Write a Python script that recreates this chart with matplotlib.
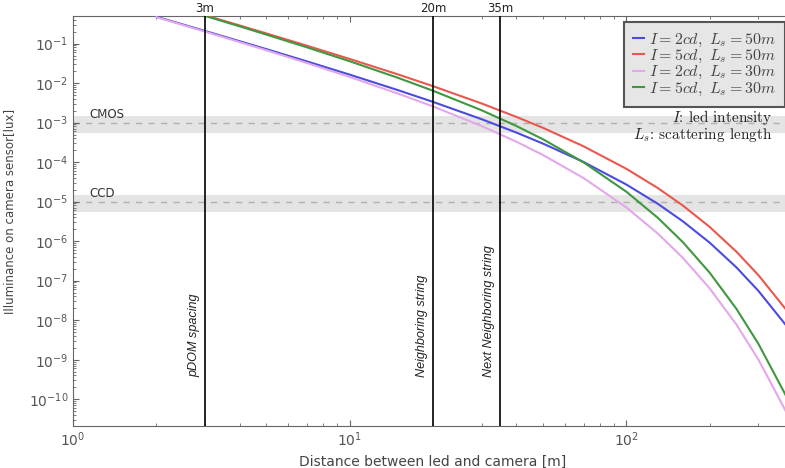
import numpy as np
import matplotlib
matplotlib.use("Agg")
import matplotlib.pyplot as plt
from matplotlib.font_manager import FontProperties
from matplotlib.ticker import LogLocator, FixedLocator, NullFormatter

# distance [m] and illuminance [lux]
dist = [2, 3, 4, 5, 7, 10, 15, 20, 30, 40, 50, 70, 100, 130, 160, 200, 250, 300, 375, 400]
lux_2cd_50m = [0.480, 0.209, 0.115, 0.0724, 0.0355, 0.0164, 6.59e-3, 3.35e-3, 1.22e-3, 5.62e-4,
               2.94e-4, 1.01e-4, 2.71e-5, 8.79e-6, 3.18e-6, 9.16e-7, 2.16e-7, 5.51e-8, 7.87e-9, 4.19e-9]
lux_5cd_50m = [1.20, 0.523, 0.288, 0.181, 0.0887, 0.0409, 0.0165, 8.38e-3, 3.05e-3, 1.40e-3,
               7.36e-4, 2.52e-4, 6.77e-5, 2.20e-5, 7.96e-6, 2.29e-6, 5.39e-7, 1.38e-7, 1.97e-8, 1.05e-8]
lux_2cd_30m = [0.468, 0.201, 0.109, 0.0677, 0.0323, 0.0143, 5.39e-3, 2.57e-3, 8.18e-4, 3.30e-4,
               1.51e-4, 3.96e-5, 7.13e-6, 1.55e-6, 3.77e-7, 6.37e-8, 7.69e-9, 1.01e-9, 5.3e-11, 2.0e-11]
lux_5cd_30m = [1.17, 0.503, 0.274, 0.169, 0.0808, 0.0358, 0.0135, 6.42e-3, 2.05e-3, 8.24e-4,
               3.78e-4, 9.90e-5, 1.78e-5, 3.88e-6, 9.42e-7, 1.59e-7, 1.92e-8, 2.52e-9, 1.33e-10, 5.1e-11]

labels = [r"$I=2cd,\ L_s=50m$", r"$I=5cd,\ L_s=50m$",
          r"$I=2cd,\ L_s=30m$", r"$I=5cd,\ L_s=30m$"]
colors = ["#4b4be0", "#e9574f", "#e3a8ea", "#3f983f"]

# string spacings marked with vertical lines
mark_x = [3, 20, 35]
mark_top = ["3m", "20m", "35m"]
mark_text = ["pDOM spacing", "Neighboring string", "Next Neighboring string"]

# sensor sensitivity bands
sensors = ["CMOS", "CCD"]
sens_level = [1e-3, 1e-5]
sens_lo = [5.5e-4, 5.5e-6]
sens_hi = [1.5e-3, 1.5e-5]

y_ticks = [1e-10, 1e-9, 1e-8, 1e-7, 1e-6, 1e-5, 1e-4, 1e-3, 1e-2, 1e-1]
x_ticks = [1, 10, 100]

fig = plt.figure(figsize=(7.85, 4.68), dpi=100)
ax = fig.add_axes([73/785, 1-426/468, 720/785, 410/468])
ax.set_xscale("log")
ax.set_yscale("log")
ax.set_xlim(1, 400)
ax.set_ylim(2.1e-11, 0.5)

for name, lev, lo, hi in zip(sensors, sens_level, sens_lo, sens_hi):
    ax.axhspan(lo, hi, color="#e4e4e4", lw=0, zorder=0)
    ax.axhline(lev, color="#b0b0b0", lw=1, ls=(0, (4.5, 4.5)), zorder=1)
    ax.text(1.15, lev*1.12, name, fontsize=8.5, color="#333333", ha="left", va="bottom")

series = [lux_2cd_50m, lux_5cd_50m, lux_2cd_30m, lux_5cd_30m]
for ys, c, lab in zip(series, colors, labels):
    ax.plot(dist, ys, color=c, lw=1.5, label=lab, zorder=3)

for xv, top, txt in zip(mark_x, mark_top, mark_text):
    ax.axvline(xv, color="black", lw=1.2, zorder=4)
    ax.annotate(top, xy=(xv, 1), xycoords=("data", "axes fraction"),
                xytext=(0, 1), textcoords="offset points",
                ha="center", va="bottom", fontsize=8.5, color="#222222")
    ax.annotate(txt, xy=(xv, 3.6e-10), xytext=(-3.5, 0), textcoords="offset points",
                rotation=90, ha="right", va="bottom", fontsize=9.1,
                family="Liberation Sans", style="italic", color="#222222")

leg = ax.legend(loc="upper right", bbox_to_anchor=(785/785, 1-22/468),
                bbox_transform=fig.transFigure, borderaxespad=0,
                prop=FontProperties(size=11.5, math_fontfamily="cm"),
                handlelength=0.65, handletextpad=0.3, labelspacing=-0.05,
                borderpad=0.6, fancybox=False, framealpha=1)
leg.get_frame().set_facecolor("#e6e6e6")
leg.get_frame().set_edgecolor("#555555")
leg.get_frame().set_linewidth(1.5)
for t in leg.get_texts():
    t.set_color("#444444")

fig.text(772/785, 1-126/468, "$I$: led intensity\n$L_s$: scattering length",
         ha="right", va="center", multialignment="right", linespacing=0.85,
         fontsize=11, family="cmr10", math_fontfamily="cm", color="#222222")

ax.xaxis.set_major_locator(FixedLocator(x_ticks))
ax.xaxis.set_minor_locator(LogLocator(base=10, subs=np.arange(2, 10), numticks=10))
ax.yaxis.set_major_locator(FixedLocator(y_ticks))
ax.yaxis.set_minor_locator(LogLocator(base=10, subs=np.arange(2, 10), numticks=20))
ax.yaxis.set_minor_formatter(NullFormatter())
ax.xaxis.set_minor_formatter(NullFormatter())
ax.tick_params(which="both", direction="in", top=True, right=False, colors="#666666",
               labelcolor="#555555", labelsize=10)
ax.tick_params(which="major", length=4)
ax.tick_params(which="minor", length=2)
for s in ax.spines.values():
    s.set_color("#666666")

ax.set_xlabel("Distance between led and camera [m]", fontsize=10, color="#444444", labelpad=4)
ax.set_ylabel("Illuminance on camera sensor[lux]", fontsize=8.5, color="#444444",
              family=["Liberation Sans Narrow", "DejaVu Sans"])
ax.yaxis.set_label_coords(-0.079, (426-211)/410)

fig.savefig("out.png", dpi=100)
